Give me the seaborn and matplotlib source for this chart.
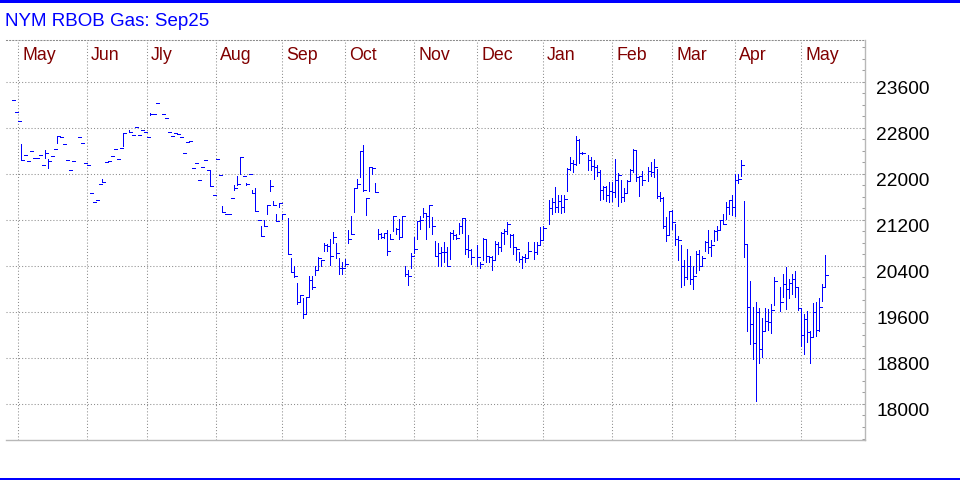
import numpy as np
import pandas as pd
import matplotlib
matplotlib.use("Agg")
import matplotlib.pyplot as plt
import seaborn as sns
from matplotlib.transforms import ScaledTranslation, blended_transform_factory
from matplotlib.patches import Rectangle
from matplotlib.ticker import MultipleLocator

nan = np.nan

title = "NYM RBOB Gas: Sep25"
# one slot per weekday, holidays / no-trade days left empty
days = pd.bdate_range("2024-04-29", "2025-05-13")
month_labels = ["May", "Jun", "Jly", "Aug", "Sep", "Oct", "Nov", "Dec",
                "Jan", "Feb", "Mar", "Apr", "May"]
price_ticks = [18000, 18800, 19600, 20400, 21200, 22000, 22800, 23600]

high = [
    23290, 23080, 22920, 22510, 22330, 22225, 22400, 22280, 22280, 22330,
    22155, 22415, 22260, 22315, 22435, 22660, 22645, 22525, 22245, 22070,
    22225, nan, 22645, 22540, 22195, 22155, 21670, 21515, 21550, 21825,
    21915, 22210, 22225, 22315, 22435, 22260, 22450, 22715, nan, 22765,
    22680, 22815, 22680, 22765, 22730, 22645, 23055, 23045, 23235, nan,
    23045, 22975, 22730, 22660, 22715, 22695, 22645, 22370, 22555, 22575,
    22105, 22190, 21885, 22120, 22245, 22060, 22060, 21635, 22260, 21985,
    21440, 21305, 21305, 21585, 21805, 21965, 22295, 21970, 21840, 21990,
    21710, 21745, 21190, 21090, 21190, 21460, 21895, 21520, 21295, 21500,
    21295, nan, 21225, 20530, 20400, 20095, 19890, 19840, 19860, 20225,
    20225, 20390, 20560, 20500, 20805, 20775, 20865, 20980, 20805, 20530,
    20460, 20515, 21020, 21270, 21750, 21905, 22400, 22505, 21575, 22110,
    22110, 21845, 21040, 20970, 20970, 21030, 20950, 21270, 21055, 21210,
    21270, 20400, 20330, 20615, 20895, 21175, 21260, 21410, 21305, 21450,
    21245, 20830, 20795, 20735, 20810, 20735, 20985, 21015, 20955, 21140,
    21235, 21215, 20945, 20695, nan, 20765, 20475, 20885, 20870, 20580,
    20580, 20825, 20810, 20985, 21045, 21160, 20955, 20955, 20735, 20640,
    20580, 20610, 20810, nan, 20810, 20810, 21070, 21085, nan, 21550,
    21575, 21770, 21625, 21640, 21625, 22100, 22300, 22245, 22665, 22610,
    22380, nan, 22330, 22300, 22245, 22160, 22070, 21795, 21780, 21855,
    21850, 22260, 22020, 21885, 21760, 21900, 22085, 22435, 22415, 21970,
    22050, nan, 22115, 22200, 22260, 22085, 21690, 21600, 21250, 21360,
    21375, 21130, 20915, 20755, 20495, 20695, 20580, 20405, 20665, 20680,
    20580, 20840, 21015, 20850, 21015, 21100, 21190, 21305, 21505, 21550,
    21625, 21995, 22005, 22245, 21535, 20760, 20145, 19680, 19770, 19660,
    19500, 19665, 19650, 19730, 20210, nan, 20025, 20250, 20385, 20170,
    20265, 20310, 20030, 19650, 19560, 19610, 19270, 19755, 19780, 19845,
    20090, 20595,
]
low = [
    23290, 23080, 22920, 22245, 22330, 22225, 22400, 22280, 22280, 22330,
    22155, 22280, 22105, 22315, 22435, 22535, 22645, 22525, 22245, 22070,
    22225, nan, 22645, 22540, 22195, 22155, 21670, 21515, 21550, 21825,
    21860, 22210, 22225, 22315, 22435, 22260, 22450, 22485, nan, 22730,
    22680, 22815, 22680, 22765, 22730, 22645, 23020, 23045, 23235, nan,
    23045, 22975, 22730, 22660, 22715, 22695, 22645, 22370, 22555, 22575,
    22105, 22190, 21885, 22120, 22245, 22060, 21790, 21635, 22260, 21985,
    21340, 21305, 21305, 21585, 21720, 21805, 21990, 21970, 21805, 21990,
    21670, 21355, 21190, 20920, 21085, 21305, 21695, 21455, 21185, 21420,
    21215, nan, 20605, 20300, 20210, 19745, 19775, 19490, 19570, 19880,
    20005, 20245, 20330, 20390, 20660, 20660, 20415, 20800, 20535, 20255,
    20265, 20400, 20795, 20950, 21330, 21775, 21950, 21705, 21285, 21695,
    21995, 21675, 20865, 20880, 20880, 20585, 20865, 21010, 20950, 20865,
    20920, 20225, 20065, 20365, 20630, 20870, 21045, 21245, 20870, 21070,
    20955, 20580, 20405, 20405, 20465, 20390, 20520, 20870, 20870, 20955,
    20970, 20610, 20550, 20435, nan, 20390, 20365, 20495, 20465, 20465,
    20320, 20495, 20610, 20665, 20785, 20955, 20725, 20610, 20495, 20465,
    20365, 20465, 20540, nan, 20520, 20610, 20755, 20850, nan, 21130,
    21295, 21335, 21335, 21315, 21335, 21700, 22060, 22030, 22155, 22185,
    22340, nan, 22070, 22060, 21915, 21970, 21550, 21565, 21535, 21505,
    21530, 21600, 21440, 21505, 21530, 21680, 21900, 22030, 21880, 21615,
    21800, nan, 21880, 21955, 21945, 21575, 21525, 21050, 20830, 20945,
    21040, 20760, 20495, 20040, 20075, 20175, 20085, 20000, 20275, 20320,
    20390, 20665, 20620, 20580, 20840, 20850, 21025, 21130, 21215, 21295,
    21280, 21260, 21840, 21960, 20550, 19275, 19045, 18775, 18050, 18710,
    18810, 19280, 19280, 19230, 19720, nan, 19620, 19860, 19650, 19840,
    19905, 19860, 19625, 19010, 18865, 19085, 18720, 19160, 19185, 19260,
    19795, 20040,
]
close = [
    23290, 23080, 22920, 22245, 22330, 22225, 22400, 22280, 22280, 22330,
    22155, 22370, 22215, 22315, 22435, 22660, 22645, 22525, 22245, 22070,
    22225, nan, 22645, 22540, 22195, 22155, 21670, 21515, 21550, 21825,
    21860, 22210, 22225, 22315, 22435, 22260, 22450, 22715, nan, 22730,
    22680, 22815, 22680, 22765, 22730, 22645, 23040, 23045, 23235, nan,
    23045, 22975, 22730, 22660, 22715, 22695, 22645, 22370, 22555, 22575,
    22105, 22190, 21885, 22120, 22245, 22060, 21790, 21635, 22260, 21985,
    21340, 21305, 21305, 21585, 21745, 21820, 22295, 21970, 21820, 21990,
    21670, 21355, 21190, 20920, 21085, 21450, 21795, 21460, 21185, 21500,
    21295, nan, 20605, 20300, 20225, 19775, 19890, 19570, 19860, 20150,
    20040, 20330, 20545, 20500, 20760, 20750, 20575, 20895, 20630, 20370,
    20370, 20440, 20865, 20950, 21750, 21820, 22400, 21720, 21575, 22110,
    22095, 21675, 20950, 20910, 20970, 20660, 20865, 21270, 21040, 20905,
    21260, 20255, 20225, 20570, 20690, 21175, 21195, 21320, 21275, 21450,
    21085, 20580, 20620, 20640, 20640, 20405, 20970, 20930, 20885, 21085,
    21235, 20695, 20680, 20550, nan, 20550, 20435, 20870, 20580, 20550,
    20495, 20785, 20725, 20975, 21005, 21130, 20930, 20735, 20695, 20520,
    20550, 20540, 20665, nan, 20640, 20770, 20850, 21060, nan, 21410,
    21505, 21430, 21535, 21430, 21565, 22085, 22185, 22175, 22580, 22360,
    22360, nan, 22245, 22130, 22115, 22030, 21710, 21770, 21625, 21695,
    21690, 21895, 21980, 21590, 21670, 21870, 22060, 22410, 21950, 21955,
    21885, nan, 22040, 22030, 22115, 21610, 21575, 21090, 20930, 21350,
    21155, 20865, 20855, 20405, 20215, 20390, 20175, 20230, 20610, 20405,
    20540, 20810, 20725, 20770, 21005, 21015, 21190, 21130, 21420, 21550,
    21420, 21890, 21915, 22145, 20785, 19680, 19385, 19065, 19590, 18950,
    19275, 19450, 19420, 19635, 20140, nan, 19775, 20090, 20000, 20095,
    20170, 20030, 19670, 19190, 19475, 19245, 19170, 19590, 19290, 19680,
    20030, 20245,
]

df = pd.DataFrame({"day": days, "high": high, "low": low, "close": close})
df["pos"] = np.arange(len(df))
bars = df.dropna()

# first weekday of every month after the partial April
month_pos = df.groupby(df["day"].dt.to_period("M"))["pos"].min().values[1:]

sns.set_theme(style="white")
plt.rcParams["font.family"] = ["Liberation Sans", "DejaVu Sans"]

fig = plt.figure(figsize=(9.6, 4.8), dpi=100)
fig.patch.set_facecolor("white")
ax = fig.add_axes([6 / 960, 40 / 480, 859 / 960, 400 / 480])
ax.set_facecolor("white")

blue = "#0000ff"
dot = (0, (1, 2))
grid_col = "#8c8c8c"

# HLC bars: high-low stem, close tick to the right
ax.vlines(bars["pos"], bars["low"], bars["high"], color=blue, lw=0.5,
          antialiased=False)
ax.hlines(bars["close"], bars["pos"], bars["pos"] + 1.0, color=blue, lw=0.5,
          antialiased=False)

ax.set_xlim(-2, 284.33)
ax.set_ylim(17374, 24325)

ax.set_xticks(month_pos)
ax.set_yticks(price_ticks)
ax.yaxis.set_minor_locator(MultipleLocator(200))
ax.grid(True, which="major", color=grid_col, linestyle=dot, lw=0.75)
ax.tick_params(axis="x", length=0, labelbottom=False)
ax.yaxis.tick_right()
ax.tick_params(axis="y", which="both", direction="in", length=2,
               color="#a0a0a0", width=0.75, labelright=False)

ax.spines["left"].set_visible(False)
ax.spines["top"].set_linestyle(dot)
ax.spines["top"].set_color(grid_col)
ax.spines["top"].set_linewidth(0.75)
for side in ["right", "bottom"]:
    ax.spines[side].set_color("#b8b8b8")
    ax.spines[side].set_linewidth(1.0)

# price labels sit a little below their grid line
lab_tr = ax.get_yaxis_transform() + ScaledTranslation(0.11, -0.08, fig.dpi_scale_trans)
for v in price_ticks:
    ax.text(1.0, v, str(v), transform=lab_tr, fontsize=13.8, color="black",
            ha="left", va="center")

# month names just right of each month line
mon_tr = blended_transform_factory(ax.transData, ax.transAxes) + \
    ScaledTranslation(0.04, 0, fig.dpi_scale_trans)
for p, name in zip(month_pos, month_labels):
    ax.text(p, 0.962, name, transform=mon_tr, fontsize=12.8, color="#800000",
            ha="left", va="center")

fig.text(5 / 960, 1 - 21.5 / 480, title, color=blue, fontsize=13.5,
         ha="left", va="center")

# blue rules at top and bottom of the panel
fig.add_artist(Rectangle((0, 1 - 2.5 / 480), 1, 2.5 / 480,
                         transform=fig.transFigure, color=blue, lw=0))
fig.add_artist(Rectangle((0, 0), 1, 2.5 / 480,
                         transform=fig.transFigure, color=blue, lw=0))

fig.savefig("out.png", dpi=100)
